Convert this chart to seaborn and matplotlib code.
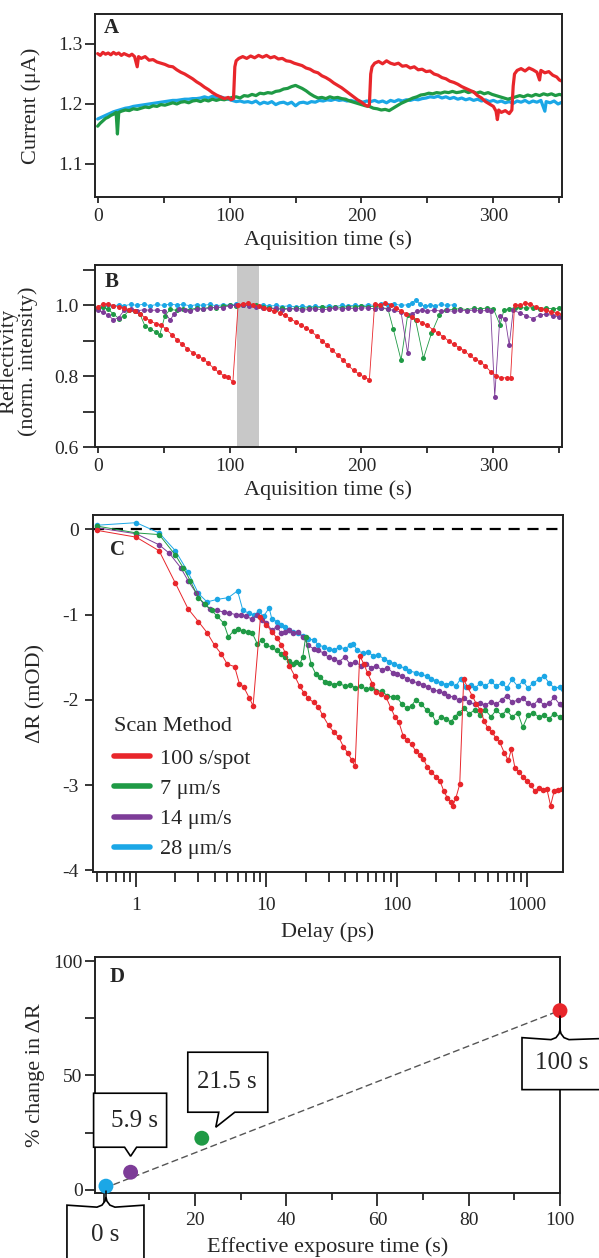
import numpy as np
import pandas as pd
import matplotlib
matplotlib.use('Agg')
import matplotlib.pyplot as plt
import seaborn as sns
from matplotlib.patches import Polygon
from matplotlib.lines import Line2D
from matplotlib.transforms import IdentityTransform
from matplotlib.ticker import FixedLocator, FuncFormatter, NullFormatter, LogLocator

# ---------------- data ----------------
# Panel A: photocurrent vs acquisition time
a_red_t = [0,2,4,6,8,10,12,14,16,18,20,22,24,26,28,30,31,33,36,39,42,45,48,51,54,57,60,63,66,69,72,75,78,81,84,87,90,93,96,99,101,103,
           104,105,107,110,113,116,119,122,125,128,131,134,137,140,143,146,149,152,155,158,161,164,167,170,173,176,179,182,185,188,191,194,197,200,203,205,206,
           207,208,210,213,216,219,222,225,228,231,234,237,240,243,246,249,252,255,258,261,264,267,270,273,276,279,282,285,288,291,294,297,300,302,303,304,306,309,312,314,
           315,316,318,321,324,327,330,333,335,336,339,342,345,348,350,352]
a_red = [1.284,1.281,1.286,1.283,1.285,1.282,1.286,1.283,1.285,1.281,1.284,1.282,1.280,1.283,1.279,1.262,1.279,1.276,1.279,1.273,1.274,1.270,1.268,1.266,1.263,1.262,1.257,1.253,1.250,1.246,1.242,1.237,1.233,1.228,1.224,1.219,1.215,1.212,1.209,1.211,1.207,1.209,
         1.262,1.272,1.276,1.279,1.276,1.280,1.277,1.281,1.278,1.281,1.277,1.279,1.275,1.276,1.272,1.271,1.268,1.266,1.264,1.260,1.258,1.254,1.252,1.247,1.244,1.240,1.235,1.231,1.227,1.222,1.217,1.212,1.207,1.203,1.198,1.196,1.199,
         1.250,1.262,1.268,1.271,1.267,1.272,1.268,1.266,1.268,1.263,1.264,1.260,1.262,1.257,1.258,1.254,1.255,1.250,1.248,1.244,1.242,1.238,1.236,1.233,1.229,1.226,1.223,1.220,1.214,1.210,1.204,1.200,1.196,1.188,1.174,1.190,1.186,1.189,1.184,1.190,
         1.230,1.250,1.256,1.259,1.255,1.260,1.257,1.253,1.240,1.256,1.252,1.254,1.248,1.245,1.240,1.238]

a_green_t = [0,2,4,6,8,10,12,14,15,16,18,21,24,27,30,33,36,39,42,45,48,51,54,57,60,63,66,69,72,75,78,81,84,87,90,93,96,99,102,105,108,111,114,117,120,123,126,129,132,135,138,141,144,147,150,152,155,158,161,164,167,170,173,176,179,182,185,188,191,194,197,200,203,206,209,212,215,218,221,224,227,230,233,236,239,242,245,248,251,254,257,260,263,266,269,272,275,278,281,284,287,290,293,296,299,302,305,308,311,314,317,320,323,326,329,332,335,338,341,344,347,350,352]
a_green = [1.163,1.168,1.172,1.176,1.178,1.181,1.183,1.186,1.150,1.186,1.188,1.190,1.189,1.192,1.191,1.193,1.195,1.194,1.197,1.196,1.199,1.198,1.200,1.202,1.200,1.203,1.204,1.202,1.205,1.206,1.204,1.207,1.205,1.208,1.206,1.208,1.207,1.209,1.211,1.212,1.210,1.214,1.213,1.216,1.214,1.218,1.217,1.219,1.218,1.221,1.222,1.225,1.226,1.229,1.231,1.229,1.226,1.222,1.217,1.213,1.210,1.211,1.209,1.212,1.210,1.211,1.209,1.208,1.205,1.203,1.201,1.199,1.197,1.196,1.193,1.192,1.190,1.191,1.189,1.193,1.197,1.201,1.204,1.207,1.210,1.212,1.215,1.216,1.218,1.217,1.219,1.218,1.220,1.219,1.221,1.219,1.220,1.222,1.219,1.221,1.218,1.220,1.217,1.219,1.216,1.214,1.212,1.210,1.208,1.210,1.212,1.214,1.212,1.215,1.213,1.216,1.214,1.217,1.215,1.217,1.214,1.216,1.215]

a_blue_t = [0,3,6,9,12,15,18,21,24,27,30,33,36,39,42,45,48,51,54,57,60,63,66,69,72,75,78,81,84,87,90,93,96,99,102,105,108,111,114,117,120,123,126,129,132,135,138,141,144,147,150,153,156,159,162,165,168,171,174,177,180,183,186,189,192,195,198,201,204,207,210,213,216,219,222,225,228,231,234,237,240,243,246,249,252,255,258,261,264,267,270,273,276,279,282,285,288,291,294,297,300,303,306,309,312,315,318,321,324,327,330,333,336,339,340,343,346,349,352]
a_blue = [1.175,1.178,1.181,1.184,1.187,1.189,1.191,1.193,1.194,1.196,1.197,1.198,1.199,1.200,1.201,1.202,1.203,1.204,1.205,1.206,1.206,1.207,1.208,1.208,1.209,1.209,1.210,1.212,1.210,1.213,1.211,1.212,1.210,1.208,1.206,1.204,1.205,1.203,1.204,1.202,1.205,1.200,1.203,1.201,1.204,1.199,1.202,1.203,1.200,1.203,1.197,1.202,1.203,1.201,1.204,1.203,1.206,1.205,1.207,1.206,1.208,1.206,1.207,1.205,1.206,1.204,1.205,1.203,1.205,1.204,1.206,1.203,1.205,1.202,1.206,1.204,1.207,1.205,1.207,1.206,1.208,1.207,1.209,1.210,1.212,1.211,1.213,1.210,1.212,1.209,1.211,1.208,1.210,1.207,1.209,1.206,1.208,1.205,1.207,1.204,1.206,1.203,1.205,1.202,1.204,1.201,1.205,1.203,1.206,1.202,1.205,1.203,1.206,1.188,1.204,1.202,1.205,1.200,1.203]

# Panel B: reflectivity vs acquisition time
b_red_t = [0,4,8,12,16,20,24,28,32,36,40,44,48,52,56,60,64,68,72,76,80,84,88,92,96,99,102.5,
           106.5,110,114,118,122,126,130,134,138,142,146,150,154,158,162,166,170,174,178,182,186,190,194,198,202,206,
           210,214,218,222,226,230,234,238,242,246,250,254,258,262,266,270,274,278,282,286,290,294,298,302,306,310,313,
           316,320,324,328,332,336,340,344,348,352]
b_red = [0.995,1.003,1.004,0.998,0.996,0.992,0.987,0.982,0.975,0.965,0.955,0.948,0.944,0.932,0.917,0.903,0.890,0.877,0.866,0.857,0.848,0.836,0.822,0.810,0.800,0.797,0.783,
         1.000,1.004,1.005,1.001,0.997,0.993,0.988,0.984,0.979,0.971,0.962,0.953,0.944,0.935,0.926,0.913,0.900,0.887,0.873,0.859,0.845,0.830,0.816,0.806,0.797,0.790,
         1.004,1.001,1.005,1.000,0.992,0.984,0.975,0.966,0.958,0.950,0.943,0.931,0.921,0.911,0.899,0.889,0.880,0.871,0.858,0.848,0.840,0.828,0.812,0.801,0.795,0.795,0.794,
         1.000,1.000,1.005,1.004,0.995,0.990,0.986,0.981,0.977,0.974]

b_green_t = [0,4,8,12,16,20,24,28,32,36,40,44,47,51,55,60,65,70,75,80,85,90,95,100,105,110,115,120,125,130,135,140,145,150,155,160,165,170,175,180,185,190,195,200,205,210,215,220,224,230,235,241,247,253,259,264,270,275,280,285,290,295,300,305,308,312,316,320,325,330,335,340,345,350]
b_green = [0.990,0.994,0.988,0.975,0.962,0.970,0.985,0.982,0.975,0.940,0.932,0.925,0.915,0.970,0.988,0.985,0.990,0.987,0.992,0.990,0.994,0.992,0.997,1.000,0.998,1.001,0.999,1.000,0.996,0.993,0.990,0.992,0.989,0.992,0.990,0.993,0.991,0.994,0.992,0.995,0.993,0.996,0.994,0.997,0.995,0.997,0.993,0.990,0.934,0.845,0.972,0.958,0.850,0.920,0.972,0.986,0.988,0.990,0.987,0.991,0.989,0.992,0.990,0.944,0.986,0.990,0.992,0.994,0.991,0.993,0.990,0.992,0.989,0.991]

b_purple_t = [0,4,8,12,16,20,25,30,35,40,45,50,55,58,62,66,70,75,80,85,90,95,100,105,110,115,120,125,130,135,140,145,150,155,160,165,170,175,180,185,190,195,200,205,210,215,220,225,230,235,238,242,246,250,255,260,265,270,275,280,285,290,295,298,301,305,309,312,315,320,325,330,335,340,345,350]
b_purple = [0.985,0.980,0.972,0.958,0.965,0.985,0.988,0.984,0.987,0.985,0.986,0.984,0.958,0.975,0.988,0.986,0.984,0.989,0.988,0.991,0.994,0.993,0.998,0.999,1.000,0.998,0.996,0.993,0.989,0.992,0.986,0.990,0.988,0.985,0.988,0.990,0.986,0.989,0.991,0.988,0.992,0.989,0.993,0.991,0.990,0.992,0.988,0.985,0.980,0.864,0.975,0.983,0.985,0.982,0.986,0.983,0.985,0.982,0.985,0.984,0.986,0.983,0.985,0.983,0.742,0.970,0.960,0.887,0.985,0.978,0.970,0.962,0.972,0.975,0.970,0.967]

b_blue_t = [0,4,8,12,16,20,25,30,35,40,45,50,55,60,65,70,75,80,85,90,95,100,105,110,115,120,125,130,135,140,145,150,155,160,165,170,175,180,185,190,195,200,205,210,215,220,225,230,235,238,241,244,248,252,256,260,265,270]
b_blue = [0.992,0.996,1.000,0.997,1.001,0.998,1.002,0.999,1.003,0.998,1.002,0.999,1.003,1.000,1.002,0.998,1.001,0.999,1.002,0.998,1.001,1.000,1.002,0.999,1.001,0.998,1.000,0.997,0.999,0.996,0.998,0.995,0.997,0.994,0.997,0.995,0.998,0.996,0.999,0.997,1.000,0.998,1.001,0.999,1.002,1.000,1.003,0.999,1.001,1.006,1.014,1.004,0.997,1.000,0.998,1.002,0.999,1.001]

b_exposed_span = [106, 122]

# Panel C: transient reflectivity vs delay
c_red_t = [0.5,1.0,1.5,2.0,2.5,3.0,3.5,4.0,4.5,5.0,5.7,6.2,6.7,7.4,7.9,
           9.0,10,11,12,13,14,15,16.5,18,19.5,21,23,25,27,30,33,36,39,42,45,48,
           52,56,60,65,70,76,83,90,97,104,112,120,130,140,150,160,172,185,200,215,230,245,260,270,285,305,
           327,350,380,410,440,470,500,540,580,620,670,720,760,810,870,930,1000,1070,1150,1230,1320,1420,1520,1620,1740,1860]
c_red = [-0.01,-0.09,-0.25,-0.63,-0.93,-1.08,-1.21,-1.36,-1.46,-1.58,-1.61,-1.81,-1.85,-1.98,-2.07,
         -1.03,-1.12,-1.20,-1.27,-1.35,-1.45,-1.60,-1.72,-1.84,-1.92,-1.98,-2.03,-2.08,-2.18,-2.30,-2.38,-2.44,-2.55,-2.62,-2.70,-2.78,
         -1.48,-1.58,-1.69,-1.81,-1.91,-1.93,-1.97,-2.09,-2.20,-2.26,-2.42,-2.47,-2.52,-2.60,-2.65,-2.69,-2.79,-2.85,-2.90,-2.95,-3.07,-3.15,-3.20,-3.24,-3.15,-2.99,
         -1.76,-1.85,-1.95,-2.05,-2.12,-2.25,-2.33,-2.38,-2.45,-2.50,-2.62,-2.71,-2.58,-2.80,-2.85,-2.90,-2.95,-3.00,-3.07,-3.03,-3.06,-3.04,-3.24,-3.07,-3.06,-3.05]

c_green_t = [0.5,1.0,1.5,2.0,2.3,2.6,3.0,3.4,3.8,4.2,4.7,5.1,5.6,6.1,6.6,7.2,7.8,8.5,9.2,10,11,12,13,14,15,16,17,18,19,20,22,24,26,28,30,33,36,40,44,48,53,58,64,70,77,85,93,100,110,120,130,140,155,170,185,200,220,240,260,280,300,330,360,400,440,480,530,580,640,700,770,850,930,1020,1120,1230,1350,1480,1620,1780,1880]
c_green = [0.04,-0.04,-0.06,-0.30,-0.45,-0.60,-0.80,-0.88,-0.95,-1.02,-1.10,-1.26,-1.19,-1.17,-1.19,-1.20,-1.22,-1.34,-1.30,-1.36,-1.38,-1.42,-1.46,-1.50,-1.54,-1.58,-1.56,-1.58,-1.50,-1.26,-1.58,-1.70,-1.73,-1.79,-1.80,-1.82,-1.80,-1.84,-1.82,-1.86,-1.84,-1.87,-1.86,-1.89,-1.90,-1.95,-1.97,-1.97,-2.05,-2.10,-2.07,-2.00,-2.05,-2.12,-2.16,-2.26,-2.20,-2.22,-2.26,-2.20,-2.15,-2.10,-2.16,-2.12,-2.18,-2.12,-2.20,-2.12,-2.18,-2.12,-2.20,-2.15,-2.32,-2.18,-2.15,-2.20,-2.18,-2.22,-2.16,-2.20,-2.20]

c_purple_t = [0.5,1.0,1.5,1.8,2.2,2.5,2.9,3.3,3.7,4.2,4.7,5.2,5.8,6.4,7.0,7.7,8.5,9.3,10,11,12,13,14,15,16,17.5,19,21,23,25,27.5,30,33,36,40,44,48,53,58,64,70,77,85,93,100,110,120,130,145,160,175,190,210,230,250,275,300,330,360,400,440,480,530,580,640,700,770,850,930,1020,1120,1230,1350,1480,1620,1780,1880]
c_purple = [0.02,-0.05,-0.18,-0.28,-0.45,-0.60,-0.75,-0.88,-0.93,-0.95,-0.97,-0.98,-1.00,-1.00,-1.02,-1.05,-1.00,-1.06,-1.10,-1.18,-1.14,-1.22,-1.20,-1.18,-1.22,-1.20,-1.26,-1.36,-1.40,-1.42,-1.45,-1.50,-1.52,-1.55,-1.50,-1.58,-1.55,-1.60,-1.58,-1.62,-1.60,-1.65,-1.62,-1.68,-1.70,-1.72,-1.75,-1.78,-1.80,-1.82,-1.85,-1.88,-1.90,-1.92,-1.95,-1.97,-2.00,-1.98,-2.03,-2.05,-2.04,-2.06,-2.02,-2.05,-2.00,-1.95,-2.03,-2.00,-1.98,-2.04,-2.06,-2.00,-2.06,-2.04,-1.97,-2.05,-2.06]

c_blue_t = [0.5,1.0,1.5,2.0,2.5,3.0,3.5,4.2,5.1,6.0,6.6,7.3,8.0,8.8,9.5,10.5,11,12,13,14,15,16,17.5,19,21,23,25,27.5,30,33,36,40,44,46,50,55,60,66,72,80,88,96,105,115,125,140,155,170,185,200,220,240,260,285,310,340,370,400,440,480,530,580,640,700,770,850,930,1020,1120,1230,1350,1480,1620,1780,1880]
c_blue = [0.05,0.08,-0.04,-0.25,-0.50,-0.75,-0.85,-0.82,-0.80,-0.72,-0.95,-0.98,-1.00,-0.96,-1.02,-0.92,-1.05,-1.08,-1.12,-1.15,-1.18,-1.20,-1.22,-1.25,-1.28,-1.30,-1.35,-1.38,-1.40,-1.42,-1.38,-1.40,-1.36,-1.34,-1.42,-1.45,-1.44,-1.48,-1.47,-1.52,-1.55,-1.58,-1.60,-1.63,-1.66,-1.68,-1.70,-1.72,-1.75,-1.78,-1.80,-1.82,-1.80,-1.84,-1.75,-1.85,-1.82,-1.86,-1.80,-1.84,-1.78,-1.84,-1.80,-1.86,-1.76,-1.84,-1.78,-1.86,-1.80,-1.76,-1.72,-1.80,-1.86,-1.85,-1.87]

scan_methods = ['100 s/spot', '7 \u03bcm/s', '14 \u03bcm/s', '28 \u03bcm/s']

# Panel D: % change vs effective exposure time
d_exposure = [100, 21.5, 5.9, 0.5]
d_change = [78.4, 22.5, 7.6, 1.5]
d_box_labels = ['100 s', '21.5 s', '5.9 s', '0 s']
d_fit_x = [0, 100]
d_fit_y = [0.5, 78.5]

# ---------------- style ----------------
RED = '#e8262b'
GREEN = '#1f9a45'
PURPLE = '#7d3c98'
BLUE = '#1ba7e6'
SPINE = '#222222'

sns.set_style('ticks')
plt.rcParams['font.family'] = ['Liberation Serif', 'DejaVu Serif']
plt.rcParams['axes.linewidth'] = 1.4
plt.rcParams['axes.edgecolor'] = SPINE

W, H = 599, 1258
fig = plt.figure(figsize=(W / 100, H / 100), dpi=100)

def rect(l, t, r, b):
    return [l / W, 1 - b / H, (r - l) / W, (b - t) / H]

axA = fig.add_axes(rect(95, 14, 562, 197))
axB = fig.add_axes(rect(95, 265, 562, 447))
axC = fig.add_axes(rect(93, 515, 563, 872))
axD = fig.add_axes(rect(95, 957, 560, 1193))

TICK = 14
LAB = 16

def style(ax):
    for s in ax.spines.values():
        s.set_linewidth(1.4)
        s.set_color(SPINE)
        s.set_visible(True)

# ---------- A ----------
for t, v, c in [(a_blue_t, a_blue, BLUE), (a_green_t, a_green, GREEN), (a_red_t, a_red, RED)]:
    sns.lineplot(x=t, y=v, color=c, linewidth=2.3, ax=axA, sort=False, estimator=None)
axA.set_xlim(-2, 352)
axA.set_ylim(1.045, 1.35)
axA.xaxis.set_major_locator(FixedLocator([0, 100, 200, 300]))
axA.xaxis.set_minor_locator(FixedLocator([50, 150, 250, 350]))
axA.yaxis.set_major_locator(FixedLocator([1.1, 1.2, 1.3]))
axA.tick_params(axis='y', which='major', direction='out', length=7, width=1.3, pad=2, labelsize=TICK)
axA.tick_params(axis='x', which='both', direction='out', length=4, width=1.3, pad=4, labelsize=TICK)
axA.set_xlabel('Aquisition time (s)', fontsize=LAB)
axA.set_ylabel('Current (\u03bcA)', fontsize=LAB)
axA.xaxis.set_label_coords(0.5, -0.235)
axA.xaxis.label.set_va('center')
axA.yaxis.set_label_coords(-0.136, 0.5)
axA.yaxis.label.set_va('center')
axA.text(0.036, 0.922, 'A', transform=axA.transAxes, fontsize=15, fontweight='bold', ha='center', va='center')
style(axA)

# ---------- B ----------
axB.axvspan(b_exposed_span[0], b_exposed_span[1], color='#c8c8c8', lw=0, zorder=0.5)
for t, v, c in [(b_blue_t, b_blue, BLUE), (b_green_t, b_green, GREEN), (b_purple_t, b_purple, PURPLE), (b_red_t, b_red, RED)]:
    sns.lineplot(x=t, y=v, color=c, linewidth=0.6, marker='o', markersize=3.6, markeredgewidth=0,
                 ax=axB, sort=False, estimator=None)
axB.set_xlim(-2, 352)
axB.set_ylim(0.6, 1.113)
axB.xaxis.set_major_locator(FixedLocator([0, 100, 200, 300]))
axB.xaxis.set_minor_locator(FixedLocator([50, 150, 250, 350]))
axB.yaxis.set_major_locator(FixedLocator([0.6, 0.8, 1.0]))
axB.yaxis.set_minor_locator(FixedLocator([0.7, 0.9, 1.1]))
axB.yaxis.set_major_formatter(FuncFormatter(lambda v, p: f'{v:.1f}'))
axB.tick_params(axis='y', which='both', direction='out', length=9, width=1.3, pad=3, labelsize=TICK)
axB.tick_params(axis='x', which='both', direction='out', length=4, width=1.3, pad=4, labelsize=TICK)
axB.set_xlabel('Aquisition time (s)', fontsize=LAB)
axB.set_ylabel('Reflectivity\n(norm. intensity)', fontsize=LAB, linespacing=1.0)
axB.xaxis.set_label_coords(0.5, -0.236)
axB.xaxis.label.set_va('center')
axB.yaxis.set_label_coords(-0.165, 0.47)
axB.yaxis.label.set_va('center')
axB.text(0.036, 0.908, 'B', transform=axB.transAxes, fontsize=15, fontweight='bold', ha='center', va='center')
style(axB)

# ---------- C ----------
axC.set_xscale('log')
axC.axhline(0, color='black', lw=1.6, ls=(0, (5, 3.5)), zorder=1)
for t, v, c in [(c_blue_t, c_blue, BLUE), (c_purple_t, c_purple, PURPLE), (c_green_t, c_green, GREEN), (c_red_t, c_red, RED)]:
    sns.lineplot(x=t, y=v, color=c, linewidth=0.7, marker='o', markersize=4, markeredgewidth=0,
                 ax=axC, sort=False, estimator=None)
axC.set_xlim(0.466, 1893)
axC.set_ylim(-4.02, 0.17)
axC.xaxis.set_major_locator(FixedLocator([1, 10, 100, 1000]))
axC.xaxis.set_major_formatter(FuncFormatter(lambda v, p: f'{v:g}'))
axC.xaxis.set_minor_locator(LogLocator(base=10, subs=[2, 3, 4, 5, 6, 7, 8, 9], numticks=20))
axC.xaxis.set_minor_formatter(NullFormatter())
axC.yaxis.set_major_locator(FixedLocator([0, -1, -2, -3, -4]))
axC.yaxis.set_major_formatter(FuncFormatter(lambda v, p: f'{v:.0f}'))
axC.tick_params(axis='x', which='major', direction='out', length=11, width=1.3, pad=7, labelsize=TICK)
axC.tick_params(axis='x', which='minor', direction='out', length=7, width=1.3)
axC.tick_params(axis='y', which='major', direction='out', length=6, width=1.3, pad=4, labelsize=TICK)
axC.set_xlabel('Delay (ps)', fontsize=LAB)
axC.set_ylabel('\u0394R (mOD)', fontsize=LAB)
axC.xaxis.set_label_coords(0.5, -0.168)
axC.xaxis.label.set_va('center')
axC.yaxis.set_label_coords(-0.121, 0.5)
axC.yaxis.label.set_va('center')
axC.text(0.053, 0.903, 'C', transform=axC.transAxes, fontsize=15, fontweight='bold', ha='center', va='center')
handles = [Line2D([0], [0], color=c, lw=4) for c in [RED, GREEN, PURPLE, BLUE]]
leg = axC.legend(handles, scan_methods, title='Scan Method', loc='upper left', bbox_to_anchor=(0.045, 0.434),
                 frameon=False, fontsize=16, title_fontsize=16, handlelength=1.6, handletextpad=0.45,
                 labelspacing=0.43, borderpad=0, borderaxespad=0, alignment='left')
leg._legend_box.sep = 9
style(axC)

# ---------- D ----------
axD.plot(d_fit_x, d_fit_y, color='#555555', lw=1.0, ls=(0, (5, 2.5)), zorder=2)
dfD = pd.DataFrame({'t': d_exposure, 'p': d_change, 'lab': d_box_labels})
sns.scatterplot(data=dfD, x='t', y='p', hue='lab', palette=[RED, GREEN, PURPLE, BLUE], s=115,
                edgecolor='none', legend=False, ax=axD, zorder=4, clip_on=False)
axD.set_xlim(-1.9, 100)
axD.set_ylim(-1.5, 101.9)
axD.xaxis.set_major_locator(FixedLocator([0, 20, 40, 60, 80, 100]))
axD.xaxis.set_major_formatter(FuncFormatter(lambda v, p: '' if v == 0 else f'{v:g}'))
axD.xaxis.set_minor_locator(FixedLocator([10, 30, 50, 70, 90]))
axD.yaxis.set_major_locator(FixedLocator([0, 50, 100]))
axD.yaxis.set_minor_locator(FixedLocator([25, 75]))
axD.tick_params(axis='x', which='major', direction='out', length=9, width=1.3, pad=5, labelsize=TICK)
axD.tick_params(axis='x', which='minor', direction='out', length=5, width=1.3)
axD.tick_params(axis='y', which='both', direction='out', length=7, width=1.3, pad=2, labelsize=TICK)
axD.set_xlabel('Effective exposure time (s)', fontsize=LAB)
axD.set_ylabel('% change in \u0394R', fontsize=LAB)
axD.xaxis.set_label_coords(0.5, -0.229)
axD.xaxis.label.set_va('center')
axD.yaxis.set_label_coords(-0.127, 0.5)
axD.yaxis.label.set_va('center')
axD.text(0.047, 0.915, 'D', transform=axD.transAxes, fontsize=15, fontweight='bold', ha='center', va='center')
style(axD)

# callout boxes (outline offsets in pixels relative to each data point)
brace_down = [(-9, -2), (-4, 0), (-1, 4), (0, 8), (1, 4), (4, 0), (9, -2)]
callouts = {
    '0 s': dict(box=[(-39, -19), (38, -19), (38, -90), (-39, -90)], brace=(-19), text=(-1, -49)),
    '100 s': dict(box=[(-38, -27), (70, -27), (70, -79), (-38, -79)], brace=(-27), text=(2, -52)),
    '5.9 s': dict(box=[(-37, 79), (36, 79), (36, 25), (6, 25), (0, 16), (-6, 25), (-37, 25)], brace=None, text=(3.5, 51)),
    '21.5 s': dict(box=[(-14, 86), (66, 86), (66, 26), (33, 26), (14, 11), (17, 26), (-14, 26)], brace=None, text=(25, 56)),
}
for xv, yv, lab in zip(d_exposure, d_change, d_box_labels):
    X, Y = axD.transData.transform((xv, yv))
    spec = callouts[lab]
    verts = spec['box']
    if spec['brace'] is not None:
        top = spec['brace']
        left, right = verts[0], verts[1]
        bverts = [(dx, top + dy) for dx, dy in brace_down]
        verts = [left] + bverts + [right] + verts[2:]
        stem = Line2D([X, X], [Y + top + 8, Y - 5], color='black', lw=1.1, transform=IdentityTransform(), zorder=5)
        fig.add_artist(stem)
    poly = Polygon([(X + dx, Y + dy) for dx, dy in verts], closed=True, facecolor='white', edgecolor='black',
                   lw=1.2, transform=IdentityTransform(), zorder=5, clip_on=False)
    fig.add_artist(poly)
    fig.text(X + spec['text'][0], Y + spec['text'][1], lab, transform=IdentityTransform(), fontsize=18,
             ha='center', va='center', zorder=6)

fig.savefig('out.png', dpi=100)
